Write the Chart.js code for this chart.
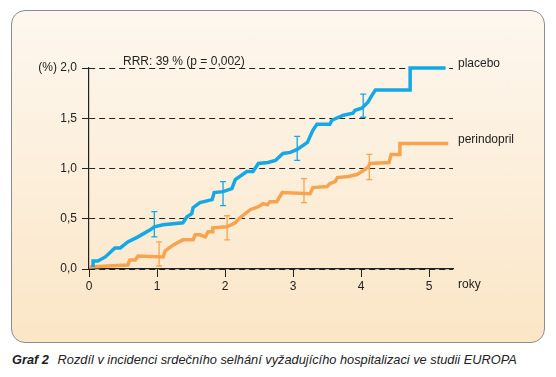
<!DOCTYPE html>
<html lang="cs">
<head>
  <meta charset="UTF-8">
  <title>Graf 2 - EUROPA</title>
  <script src="https://cdn.jsdelivr.net/npm/chart.js"></script>
  <style>
    body { margin: 0; width: 556px; height: 377px; background: #fff; position: relative; overflow: hidden; font-family: "Liberation Sans", Arial, sans-serif; }
    .box {
      position: absolute; left: 11px; top: 10px; width: 532px; height: 331px;
      border: 1.5px solid #8c8c8c; border-radius: 14px;
      background: linear-gradient(#fdf7ef, #fbe6c6);
    }
    #chart { position: absolute; left: 0; top: 0; }
    .caption { position: absolute; left: 12px; top: 352px; font-size: 12.8px; font-style: italic; color: #222; white-space: nowrap; }
    .caption b { margin-right: 5px; }
  </style>
</head>
<body>
  <div class="box"></div>
  <canvas id="chart" width="556" height="345"></canvas>
  <div class="caption"><b>Graf 2</b> Rozdíl v incidenci srdečního selhání vyžadujícího hospitalizaci ve studii EUROPA</div>

  <script>
    const xTicks = [0, 1, 2, 3, 4, 5];
    const yTicks = [0, 0.5, 1, 1.5, 2];

    const placeboX = [0.06,0.06,0.13,0.24,0.38,0.46,0.57,0.72,0.90,0.96,1.09,1.38,1.44,1.51,1.53,1.63,1.81,1.84,1.97,2.10,2.15,2.32,2.41,2.49,2.63,2.74,2.85,2.96,3.06,3.21,3.29,3.35,3.54,3.57,3.74,3.88,3.91,4.01,4.10,4.16,4.21,4.72,4.72,5.24];
    const placeboY = [0.02,0.08,0.08,0.12,0.21,0.21,0.27,0.32,0.39,0.42,0.44,0.46,0.52,0.55,0.61,0.66,0.69,0.76,0.77,0.80,0.89,0.97,0.97,1.05,1.06,1.08,1.15,1.16,1.19,1.26,1.38,1.44,1.44,1.48,1.53,1.55,1.58,1.60,1.66,1.73,1.78,1.78,2.00,2.00];

    const perindoprilX = [0,0.57,0.60,0.68,0.72,1.09,1.12,1.24,1.38,1.53,1.56,1.63,1.71,1.75,1.81,1.82,2.03,2.15,2.22,2.37,2.49,2.56,2.62,2.66,2.76,2.84,3.25,3.29,3.50,3.54,3.62,3.65,3.81,3.94,4.01,4.10,4.13,4.41,4.44,4.56,4.57,5.28];
    const perindoprilY = [0.02,0.04,0.09,0.09,0.13,0.12,0.18,0.24,0.29,0.29,0.34,0.34,0.32,0.37,0.37,0.41,0.42,0.46,0.51,0.59,0.62,0.65,0.64,0.67,0.67,0.76,0.75,0.81,0.82,0.85,0.87,0.91,0.92,0.94,0.97,1.01,1.05,1.06,1.14,1.14,1.25,1.25];

    // chybové úsečky
    const placeboErrX = [0.96, 1.97, 3.06, 4.03];
    const placeboErrLo = [0.32, 0.63, 1.08, 1.51];
    const placeboErrHi = [0.57, 0.87, 1.32, 1.74];
    const perindoprilErrX = [1.03, 2.03, 3.16, 4.12];
    const perindoprilErrLo = [0.03, 0.29, 0.66, 0.89];
    const perindoprilErrHi = [0.27, 0.53, 0.90, 1.14];

    const blue = "#14a8e6";
    const orange = "#f7a450";
    const textColor = "#222";
    const font = "Liberation Sans, Arial, sans-serif";

    const toPoints = (xs, ys) => xs.map((x, i) => ({ x: x, y: ys[i] }));
    const fmt = v => v.toFixed(1).replace(".", ",");

    const errorBars = {
      id: "errorBars",
      afterDatasetsDraw(chart) {
        const { ctx, scales: { x, y } } = chart;
        const sets = [
          [placeboErrX, placeboErrLo, placeboErrHi, blue],
          [perindoprilErrX, perindoprilErrLo, perindoprilErrHi, orange]
        ];
        ctx.save();
        ctx.lineWidth = 1.3;
        sets.forEach(([xs, lo, hi, color]) => {
          ctx.strokeStyle = color;
          xs.forEach((v, i) => {
            const px = x.getPixelForValue(v);
            const p1 = y.getPixelForValue(lo[i]);
            const p2 = y.getPixelForValue(hi[i]);
            ctx.beginPath();
            ctx.moveTo(px, p1); ctx.lineTo(px, p2);
            ctx.moveTo(px - 3, p1); ctx.lineTo(px + 3, p1);
            ctx.moveTo(px - 3, p2); ctx.lineTo(px + 3, p2);
            ctx.stroke();
          });
        });
        ctx.restore();
      }
    };

    const labels = {
      id: "labels",
      afterDraw(chart) {
        const { ctx, chartArea, scales: { x, y } } = chart;
        ctx.save();
        ctx.fillStyle = textColor;
        ctx.font = "12px " + font;
        ctx.textAlign = "left";
        ctx.textBaseline = "alphabetic";
        ctx.fillText("RRR: 39 % (p = 0,002)", x.getPixelForValue(0.5), chartArea.top - 3);
        ctx.textBaseline = "middle";
        ctx.fillText("placebo", chartArea.right + 5, y.getPixelForValue(placeboY[placeboY.length - 1]) - 4);
        ctx.fillText("perindopril", chartArea.right + 5, y.getPixelForValue(perindoprilY[perindoprilY.length - 1]) - 4);
        ctx.fillText("roky", chartArea.right + 5, chartArea.bottom + 16);
        ctx.restore();
      }
    };

    new Chart(document.getElementById("chart"), {
      type: "line",
      data: {
        datasets: [
          { label: "placebo", data: toPoints(placeboX, placeboY), borderColor: blue, borderWidth: 3.5, pointRadius: 0, tension: 0, clip: false },
          { label: "perindopril", data: toPoints(perindoprilX, perindoprilY), borderColor: orange, borderWidth: 3.5, pointRadius: 0, tension: 0, clip: false }
        ]
      },
      options: {
        responsive: false,
        animation: false,
        devicePixelRatio: 1,
        layout: { padding: { left: 24, right: 103, top: 68, bottom: 46 } },
        plugins: { legend: { display: false }, tooltip: { enabled: false } },
        scales: {
          x: {
            type: "linear",
            min: 0,
            max: 5.35,
            afterFit: s => { s.height = 30; },
            afterBuildTicks: s => { s.ticks = xTicks.map(v => ({ value: v })); },
            ticks: { color: textColor, font: { size: 12, family: font }, padding: 2, maxRotation: 0, includeBounds: false, callback: v => String(v) },
            grid: { drawOnChartArea: false, drawTicks: true, tickLength: 8, tickColor: textColor },
            border: { color: textColor, width: 1.2 }
          },
          y: {
            min: 0,
            max: 2,
            afterFit: s => { s.width = 65; },
            afterBuildTicks: s => { s.ticks = yTicks.map(v => ({ value: v })); },
            ticks: { color: textColor, font: { size: 12, family: font }, padding: 5, callback: v => v === 2 ? "(%) " + fmt(v) : fmt(v) },
            grid: { color: textColor, lineWidth: 1, tickLength: 7, tickColor: textColor, tickBorderDash: [] },
            border: { color: textColor, width: 1.2, dash: [6, 4] }
          }
        }
      },
      plugins: [errorBars, labels]
    });
  </script>
</body>
</html>
